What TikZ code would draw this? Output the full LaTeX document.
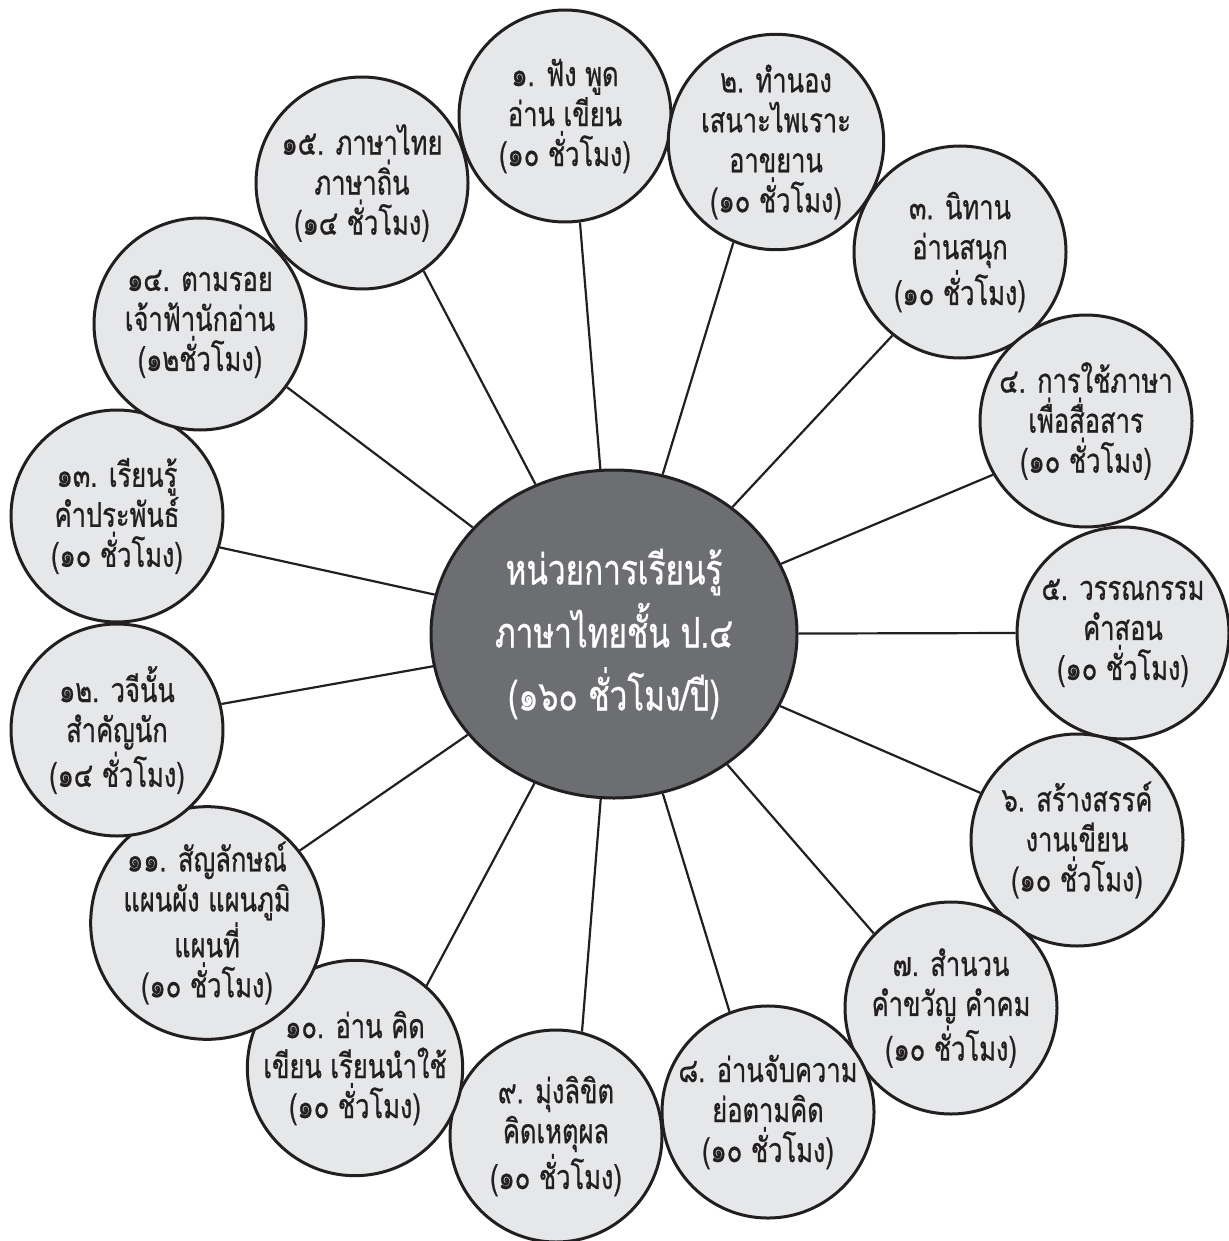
\documentclass[tikz,border=0pt]{standalone}
\usepackage{fontspec}
\setmainfont[Script=Thai,FakeStretch=0.75,FakeBold=0.7]{Loma}
\usepackage{tikz}
\usetikzlibrary{shapes.geometric}
\definecolor{ink}{HTML}{231F20}
\definecolor{unitfill}{HTML}{E6E7E8}
\definecolor{hubfill}{HTML}{6D6E71}

\begin{document}
\begin{tikzpicture}[x=0.5pt,y=-0.5pt,
  unit/.style = {shape=circle, draw=ink, line width=1.5pt,
    fill=unitfill, text=ink, align=center, inner sep=0pt,
    minimum size=106pt, font=\fontsize{17}{20}\selectfont},
  hub/.style = {shape=ellipse, draw=ink, line width=1.5pt,
    fill=hubfill, text=white, align=center, inner sep=0pt,
    minimum width=183pt, minimum height=164pt,
    font=\fontsize{21}{31.5}\selectfont},
  link/.style = {draw=ink, line width=1.1pt}
  ]
  \useasboundingbox (0,0) rectangle (1228,1241);
  \node[hub] (hub) at (614,634) {หน่วยการเรียนรู้\\ภาษาไทยชั้น ป.๔\\(๑๖๐ ชั่วโมง/ปี)};
  \node[unit] (c1) at (565,116) {๑. ฟัง พูด\\อ่าน เขียน\\(๑๐ ชั่วโมง)};
  \node[unit] (c2) at (776,142) {๒. ทำนอง\\เสนาะไพเราะ\\อาขยาน\\(๑๐ ชั่วโมง)};
  \node[unit] (c3) at (960,252) {๓. นิทาน\\อ่านสนุก\\(๑๐ ชั่วโมง)};
  \node[unit] (c4) at (1086,421) {๔. การใช้ภาษา\\เพื่อสื่อสาร\\(๑๐ ชั่วโมง)};
  \node[unit] (c5) at (1123,633) {๕. วรรณกรรม\\คำสอน\\(๑๐ ชั่วโมง)};
  \node[unit] (c6) at (1077,840) {๖. สร้างสรรค์\\งานเขียน\\(๑๐ ชั่วโมง)};
  \node[unit] (c7) at (951,1008) {๗. สำนวน\\คำขวัญ คำคม\\(๑๐ ชั่วโมง)};
  \node[unit] (c8) at (768,1112) {๘. อ่านจับความ\\ย่อตามคิด\\(๑๐ ชั่วโมง)};
  \node[unit] (c9) at (556,1136) {๙. มุ่งลิขิต\\คิดเหตุผล\\(๑๐ ชั่วโมง)};
  \node[unit] (c10) at (355,1068) {๑๐. อ่าน คิด\\เขียน เรียนนำใช้\\(๑๐ ชั่วโมง)};
  \node[unit] (c11) at (207,923) {๑๑. สัญลักษณ์\\แผนผัง แผนภูมิ\\แผนที่\\(๑๐ ชั่วโมง)};
  \node[unit] (c12) at (117,730) {๑๒. วจีนั้น\\สำคัญนัก\\(๑๔ ชั่วโมง)};
  \node[unit] (c13) at (117,516) {๑๓. เรียนรู้\\คำประพันธ์\\(๑๐ ชั่วโมง)};
  \node[unit] (c14) at (200,324) {๑๔. ตามรอย\\เจ้าฟ้านักอ่าน\\(๑๒ชั่วโมง)};
  \node[unit] (c15) at (362,183) {๑๕. ภาษาไทย\\ภาษาถิ่น\\(๑๔ ชั่วโมง)};
  % spokes from the hub
  \foreach \n/\a in {1/-82,2/-113,3/-129,4/-150,5/180,6/154,7/136,8/111,
                     9/76,10/49,11/38,12/14,13/-17,14/-36,15/-55}
    \draw[link] (hub) -- (c\n.\a);
\end{tikzpicture}
\end{document}
